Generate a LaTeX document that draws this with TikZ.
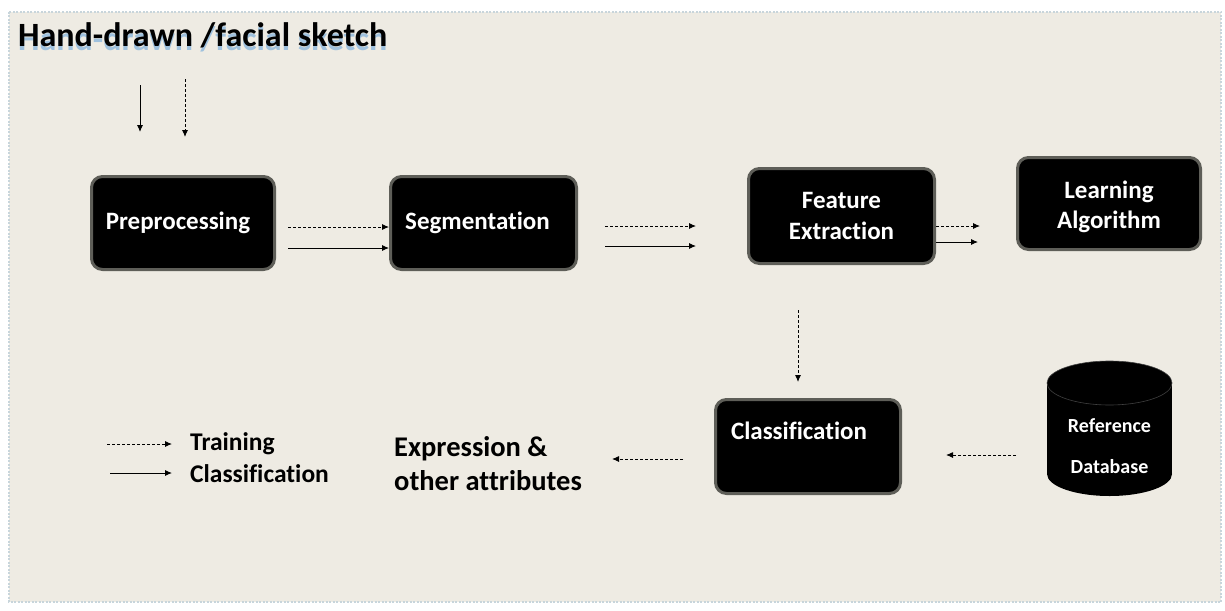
\documentclass[tikz,border=0pt]{standalone}
\usepackage{fontspec}
\setmainfont{Carlito}[Ligatures={NoCommon}]
\usetikzlibrary{arrows.meta}
\definecolor{panel}{HTML}{EEEBE3}
\definecolor{panelborder}{HTML}{C8D5DB}
\definecolor{boxborder}{HTML}{5E5E58}
\definecolor{glow}{HTML}{3F8FD8}
\tikzset{
  blockbox/.style={rounded corners=11pt, fill=black, draw=boxborder, line width=3pt,
    text=white, font=\bfseries\fontsize{25}{30.5}\selectfont, align=center, inner sep=0pt},
  arr/.style={-{Latex[length=7pt,width=6pt]}, line width=0.9pt, black},
  darr/.style={arr, dash pattern=on 3pt off 2pt},
  lbl/.style={font=\bfseries\fontsize{25.5}{30}\selectfont, anchor=west, inner sep=0pt},
}
\begin{document}
\begin{tikzpicture}[x=1pt,y=-1pt]
\useasboundingbox (0,0) rectangle (1225,610);
\fill[white] (0,0) rectangle (1225,610);
% panel
\fill[panel] (9,12) rectangle (1221,602);
\draw[panelborder, line width=2.5pt, dash pattern=on 2pt off 1.5pt] (9,12) rectangle (1221,602);

% title with glow
\node (titleglow) [anchor=west, inner sep=0pt, text=glow, opacity=0.45, font=\bfseries\fontsize{34}{38}\selectfont] at (18,39) {Hand-drawn /facial sketch};
\node (title) [anchor=west, inner sep=0pt, font=\bfseries\fontsize{34}{38}\selectfont] at (18,35) {Hand-drawn /facial sketch};

% boxes
\node (pre) [blockbox, minimum width=183pt, minimum height=93pt] at (183,223) {Preprocessing\hspace{10pt}};
\node (seg) [blockbox, minimum width=186pt, minimum height=93pt] at (483.5,223) {Segmentation\hspace{12pt}};
\node (fe)  [blockbox, minimum width=186pt, minimum height=95pt] at (841.5,216) {Feature\\Extraction};
\node (la)  [blockbox, minimum width=183pt, minimum height=92pt] at (1109,203.5) {\rule{0pt}{8pt}\\[-14pt]Learning\\Algorithm};
\node (cls) [blockbox, minimum width=185pt, minimum height=94pt, text depth=32pt] at (808,446.5) {Classification\hspace{18pt}};

% database cylinder
\fill[black] (1047,383) rectangle (1172,474);
\fill[black] (1109.5,474) ellipse[x radius=62.5, y radius=22];
\fill[black] (1109.5,383) ellipse[x radius=62.5, y radius=22];
\draw[black!75!white, line width=0.6pt] (1109.5,383) ellipse[x radius=62.5, y radius=22];
\node (db) [inner sep=0pt, minimum width=125pt, minimum height=136pt, align=center, text=white,
  font=\bfseries\fontsize{20}{41}\selectfont] at (1109.5,446) {Reference\\Database};

% input arrows at top
\coordinate (in1s) at (140,85);
\coordinate (in1e) at (140,132);
\coordinate (in2s) at (185,79);
\coordinate (in2e) at (185,137);
\draw[arr] (in1s) -- (in1e);
\draw[darr] (in2s) -- (in2e);

% pre -> seg
\draw[darr] ([xshift=12pt]pre.east |- 0,227) -- (seg.west |- 0,227);
\draw[arr]  ([xshift=12pt]pre.east |- 0,248) -- (seg.west |- 0,248);

% seg -> (free)
\coordinate (s1) at (605,226);
\coordinate (e1) at (696,226);
\coordinate (s2) at (605,246);
\coordinate (e2) at (696,246);
\draw[darr] (s1) -- (e1);
\draw[arr] (s2) -- (e2);

% fe -> (free)
\coordinate (f1) at (980,226);
\coordinate (f2) at (978,242);
\draw[darr] (fe.east |- f1) -- (f1);
\draw[arr] (fe.east |- f2) -- (f2);

% vertical dashed to classification
\coordinate (v1) at (798,310);
\coordinate (v2) at (798,382);
\draw[darr] (v1) -- (v2);

% db -> classification
\coordinate (d1) at (1016,455);
\coordinate (d2) at (946,455);
\draw[darr] (d1) -- (d2);

% classification -> expression
\coordinate (c1) at (683,459);
\coordinate (c2) at (612,459);
\draw[darr] (c1) -- (c2);

\node (expr) [anchor=west, inner sep=0pt, align=left, font=\bfseries\fontsize{28.5}{34}\selectfont] at (394,464) {Expression \&\\other attributes};

% legend
\coordinate (lt1) at (107,444);
\coordinate (lt2) at (172,444);
\coordinate (lc1) at (110,473);
\coordinate (lc2) at (172,473);
\draw[darr] (lt1) -- (lt2);
\draw[arr] (lc1) -- (lc2);
\node (ltr) [lbl] at (190,444) {Training};
\node (lcl) [lbl] at (190,474) {Classification};
\end{tikzpicture}
\end{document}
